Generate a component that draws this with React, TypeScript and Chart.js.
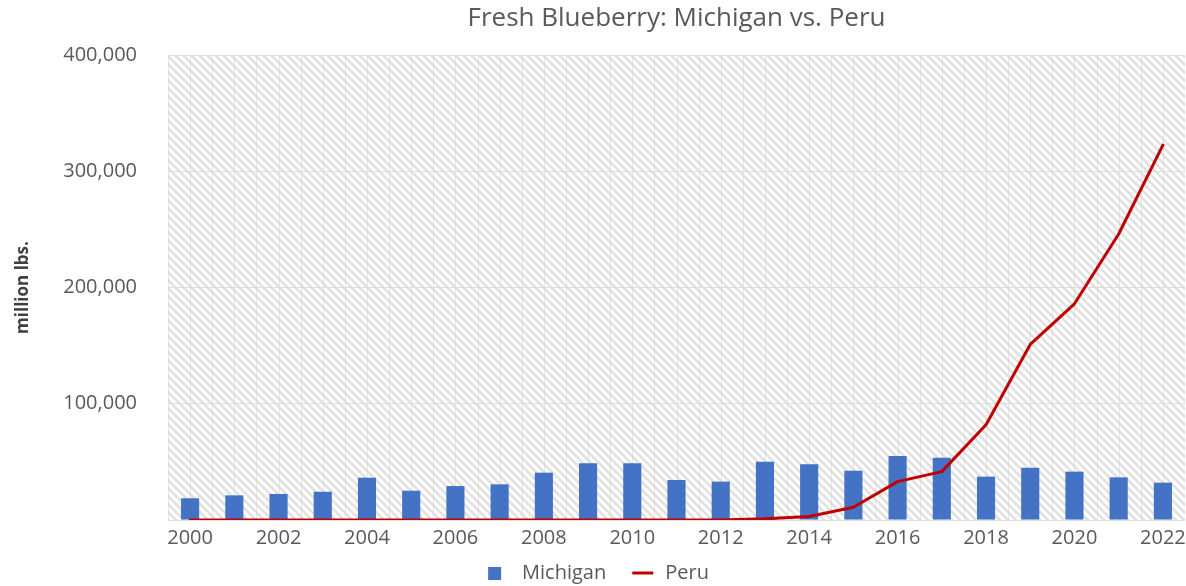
import React, { useEffect, useRef } from "react";
import { Chart, registerables } from "chart.js";

Chart.register(...registerables);

const TITLE = "Fresh Blueberry: Michigan vs. Peru";
const Y_TITLE = "million lbs.";
const SERIES_NAMES = ["Michigan", "Peru"];
const YEARS = [
  "2000", "2001", "2002", "2003", "2004", "2005", "2006", "2007", "2008", "2009", "2010", "2011",
  "2012", "2013", "2014", "2015", "2016", "2017", "2018", "2019", "2020", "2021", "2022",
];
const MICHIGAN = [
  18700, 21200, 22400, 24300, 36400, 25200, 29200, 30700, 40700, 48800, 48800, 34400,
  33000, 50200, 47900, 42400, 55000, 53600, 37300, 45000, 41600, 36700, 32100,
];
const PERU = [
  0, 0, 0, 0, 0, 0, 0, 0, 0, 0, 0, 0,
  0, 1000, 3000, 11000, 33000, 41600, 82000, 151000, 186000, 246000, 322500,
];
const Y_MIN = 0;
const Y_MAX = 400000;
const Y_STEP = 100000;

const FONT = "'Open Sans', 'Noto Sans', sans-serif";
const BLUE = "#4472c4";
const RED = "#c00000";
const TEXT_GRAY = "#595959";
const LEGEND_BOX_W = 36;

function makeHatch(): CanvasPattern | string {
  const s = 8;
  const c = document.createElement("canvas");
  c.width = s;
  c.height = s;
  const g = c.getContext("2d");
  if (!g) return "#f2f2f2";
  g.fillStyle = "#ffffff";
  g.fillRect(0, 0, s, s);
  g.strokeStyle = "#e1e1e1";
  g.lineWidth = 2.6;
  g.beginPath();
  for (let k = -1; k <= 1; k++) {
    g.moveTo(-1, -1 + k * s);
    g.lineTo(s + 1, s + 1 + k * s);
  }
  g.stroke();
  const p = g.createPattern(c, "repeat");
  return p || "#f2f2f2";
}

function makeMarker(kind: "rect" | "line"): HTMLCanvasElement {
  const c = document.createElement("canvas");
  c.width = LEGEND_BOX_W;
  c.height = 13;
  const g = c.getContext("2d");
  if (g) {
    if (kind === "rect") {
      g.fillStyle = BLUE;
      g.fillRect(12, 0, 13, 13);
    } else {
      g.strokeStyle = RED;
      g.lineWidth = 3;
      g.beginPath();
      g.moveTo(13, 6.5);
      g.lineTo(34, 6.5);
      g.stroke();
    }
  }
  return c;
}

const backgroundPlugin = {
  id: "hatchBackground",
  beforeDraw(chart: any) {
    const { ctx, chartArea } = chart;
    if (!chartArea) return;
    const { left, right, top, bottom } = chartArea;
    ctx.save();
    ctx.fillStyle = makeHatch();
    ctx.fillRect(left, top, right - left, bottom - top);
    const xs = chart.scales.x;
    const n = YEARS.length;
    const half = (xs.getPixelForValue(1) - xs.getPixelForValue(0)) / 2;
    ctx.strokeStyle = "rgba(212,212,212,0.6)";
    ctx.lineWidth = 1;
    ctx.beginPath();
    for (let i = 0; i < n; i++) {
      const c = xs.getPixelForValue(i);
      for (const x of [c - half, c]) {
        const px = Math.round(x) + 0.5;
        ctx.moveTo(px, top);
        ctx.lineTo(px, bottom);
      }
    }
    ctx.stroke();
    ctx.restore();
  },
};

const titlePlugin = {
  id: "centeredTitle",
  afterDraw(chart: any) {
    const { ctx, chartArea } = chart;
    if (!chartArea) return;
    ctx.save();
    ctx.font = `26px ${FONT}`;
    ctx.fillStyle = TEXT_GRAY;
    ctx.textAlign = "center";
    ctx.textBaseline = "middle";
    ctx.fillText(TITLE, (chartArea.left + chartArea.right) / 2, 19);
    ctx.restore();
  },
};

export default function App() {
  const canvasRef = useRef<HTMLCanvasElement | null>(null);

  useEffect(() => {
    document.body.style.margin = "0";
    const canvas = canvasRef.current;
    if (!canvas) return;
    const markers = [makeMarker("rect"), makeMarker("line")];
    const chart = new Chart(canvas, {
      type: "bar",
      data: {
        labels: YEARS,
        datasets: [
          {
            type: "bar",
            label: SERIES_NAMES[0],
            data: MICHIGAN,
            backgroundColor: BLUE,
            borderWidth: 0,
            barPercentage: 0.41,
            categoryPercentage: 1,
            order: 1,
          },
          {
            type: "line",
            label: SERIES_NAMES[1],
            data: PERU,
            borderColor: RED,
            backgroundColor: RED,
            borderWidth: 3,
            pointRadius: 0,
            tension: 0,
            borderJoinStyle: "round",
            borderCapStyle: "round",
            order: 0,
          } as any,
        ],
      },
      options: {
        responsive: false,
        animation: false,
        layout: { padding: { top: 55, left: 0, right: 1, bottom: -7 } },
        plugins: {
          title: { display: false },
          tooltip: { enabled: false },
          legend: {
            display: true,
            position: "bottom",
            labels: {
              usePointStyle: true,
              pointStyleWidth: LEGEND_BOX_W,
              boxWidth: 20,
              boxHeight: 13,
              padding: 13,
              color: TEXT_GRAY,
              font: { family: FONT, size: 20 },
              generateLabels: () =>
                SERIES_NAMES.map(
                  (name, i) =>
                    ({
                      text: name,
                      fillStyle: i === 0 ? BLUE : RED,
                      strokeStyle: i === 0 ? BLUE : RED,
                      lineWidth: 0,
                      pointStyle: markers[i],
                      datasetIndex: i,
                      fontColor: TEXT_GRAY,
                    } as any)
                ),
            },
          },
        },
        scales: {
          x: {
            type: "category",
            grid: { display: false, drawTicks: true, tickLength: 6 },
            border: { display: false },
            ticks: {
              autoSkip: false,
              maxRotation: 0,
              minRotation: 0,
              padding: 0,
              color: TEXT_GRAY,
              font: { family: FONT, size: 20 },
              callback: (_v: any, i: number) => (i % 2 === 0 ? YEARS[i] : ""),
            },
            afterFit: (s: any) => {
              s.height = 30;
            },
          },
          y: {
            min: Y_MIN,
            max: Y_MAX,
            grid: { color: "#dcdcdc", drawTicks: false },
            border: { display: false },
            ticks: {
              stepSize: Y_STEP,
              padding: 31,
              color: TEXT_GRAY,
              font: { family: FONT, size: 20 },
              callback: (v: any) => (Number(v) === 0 ? "" : Number(v).toLocaleString("en-US")),
            },
            title: {
              display: true,
              text: Y_TITLE,
              color: "#404040",
              font: { family: FONT, size: 17, weight: "bold" },
              padding: { top: 13, bottom: 0 },
            },
            afterFit: (s: any) => {
              s.width = 168;
            },
          },
        },
      },
      plugins: [backgroundPlugin, titlePlugin],
    });
    return () => chart.destroy();
  }, []);

  return (
    <div style={{ position: "fixed", left: 0, top: 0, width: 1186, height: 586, background: "#fff" }}>
      <canvas ref={canvasRef} width={1186} height={586} />
    </div>
  );
}
